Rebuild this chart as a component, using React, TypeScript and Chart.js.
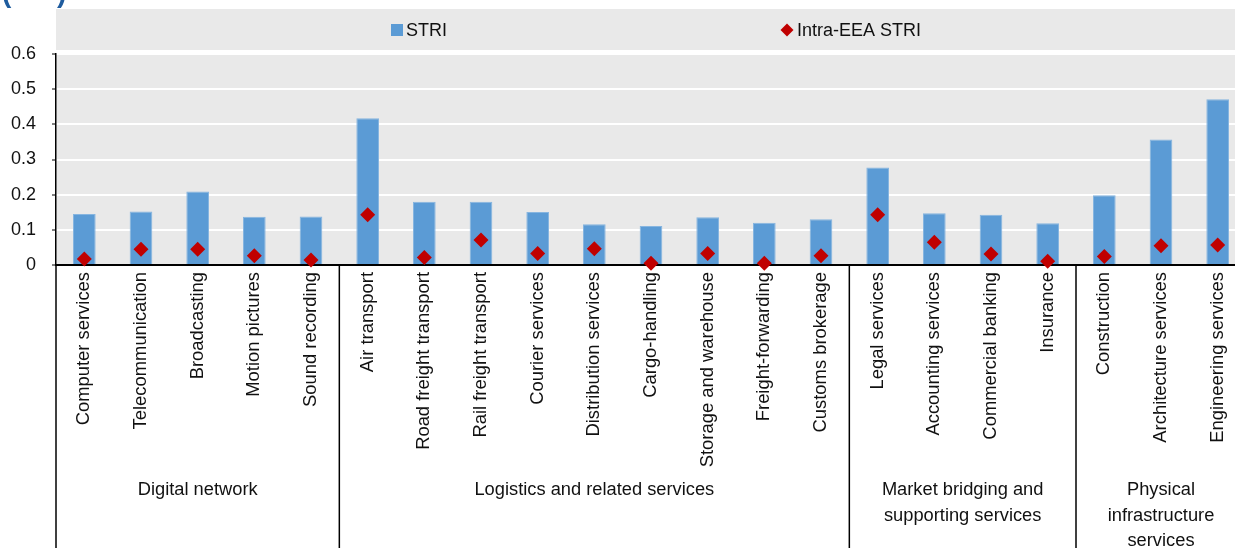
import React, { useEffect, useRef } from "react";
import { Chart, registerables } from "chart.js";

Chart.register(...registerables);

const categories = [
  "Computer services",
  "Telecommunication",
  "Broadcasting",
  "Motion pictures",
  "Sound recording",
  "Air transport",
  "Road freight transport",
  "Rail freight transport",
  "Courier services",
  "Distribution services",
  "Cargo-handling",
  "Storage and warehouse",
  "Freight-forwarding",
  "Customs brokerage",
  "Legal services",
  "Accounting services",
  "Commercial banking",
  "Insurance",
  "Construction",
  "Architecture services",
  "Engineering services",
];

const striValues = [
  0.145, 0.152, 0.209, 0.137, 0.138, 0.417, 0.18, 0.18, 0.151, 0.116, 0.111,
  0.136, 0.12, 0.13, 0.277, 0.147, 0.143, 0.119, 0.198, 0.357, 0.471,
];

const intraEeaValues = [
  0.017, 0.045, 0.045, 0.026, 0.014, 0.143, 0.021, 0.071, 0.033, 0.046, 0.005,
  0.033, 0.005, 0.026, 0.143, 0.065, 0.031, 0.011, 0.024, 0.055, 0.057,
];

const yTicks = [0, 0.1, 0.2, 0.3, 0.4, 0.5, 0.6];

const groupSizes = [5, 9, 4, 3];
const groupLabels = [
  ["Digital network"],
  ["Logistics and related services"],
  ["Market bridging and", "supporting services"],
  ["Physical", "infrastructure", "services"],
];

const legendLabels = ["STRI", "Intra-EEA STRI"];

const FONT = '"Liberation Sans", Arial, sans-serif';
const BLUE = "#5B9BD5";
const RED = "#C00000";
const BG = "#E9E9E9";
const W = 1262;
const H = 560;

const decorPlugin = {
  id: "decor",
  beforeDraw(chart: any) {
    const { ctx, chartArea: ca, width, height } = chart;
    ctx.save();
    ctx.fillStyle = "#ffffff";
    ctx.fillRect(0, 0, width, height);
    ctx.fillStyle = BG;
    ctx.fillRect(ca.left, 9, width - ca.left, 41);
    ctx.fillRect(ca.left, ca.top, ca.right - ca.left, ca.bottom - ca.top);
    ctx.restore();
  },
  afterDatasetDraw(chart: any, args: any) {
    if (args.index !== 0) return;
    const { ctx, chartArea: ca } = chart;
    const y0 = chart.scales.y.getPixelForValue(0);
    ctx.save();
    ctx.strokeStyle = "#000";
    ctx.lineWidth = 2;
    ctx.beginPath();
    ctx.moveTo(ca.left, y0);
    ctx.lineTo(ca.right, y0);
    ctx.stroke();
    ctx.restore();
  },
  afterDraw(chart: any) {
    const { ctx, chartArea: ca, height } = chart;
    const xs = chart.scales.x;
    const y0 = chart.scales.y.getPixelForValue(0);
    ctx.save();
    // group separators
    const bounds: number[] = [ca.left];
    let idx = 0;
    groupSizes.forEach((n) => {
      idx += n;
      if (idx < categories.length) {
        bounds.push((xs.getPixelForValue(idx - 1) + xs.getPixelForValue(idx)) / 2);
      } else {
        bounds.push(ca.right);
      }
    });
    ctx.strokeStyle = "#000";
    ctx.lineWidth = 1.5;
    bounds.forEach((bx) => {
      ctx.beginPath();
      ctx.moveTo(bx, y0);
      ctx.lineTo(bx, height);
      ctx.stroke();
    });
    // group labels
    ctx.fillStyle = "#111";
    ctx.font = `18.3px ${FONT}`;
    ctx.textAlign = "center";
    ctx.textBaseline = "middle";
    groupLabels.forEach((lines, g) => {
      const cx = (bounds[g] + bounds[g + 1]) / 2;
      lines.forEach((line, k) => {
        ctx.fillText(line, cx, 490 + k * 25.5);
      });
    });
    // legend
    const ly = 30;
    ctx.textAlign = "left";
    ctx.font = `18px ${FONT}`;
    ctx.fillStyle = BLUE;
    ctx.fillRect(391, ly - 6, 12, 12);
    ctx.fillStyle = "#111";
    ctx.fillText(legendLabels[0], 406, ly + 1);
    ctx.fillStyle = RED;
    ctx.beginPath();
    ctx.moveTo(787, ly - 6.5);
    ctx.lineTo(793.5, ly);
    ctx.lineTo(787, ly + 6.5);
    ctx.lineTo(780.5, ly);
    ctx.closePath();
    ctx.fill();
    ctx.fillStyle = "#111";
    ctx.fillText(legendLabels[1], 797, ly + 1);
    // cut-off title parentheses
    ctx.fillStyle = "#1F5C9E";
    ctx.font = `bold 28px "Liberation Sans", Arial, sans-serif`;
    ctx.textBaseline = "alphabetic";
    ctx.fillText("(", 2, 2);
    ctx.fillText(")", 57, 2);
    ctx.restore();
  },
};

export default function App() {
  const canvasRef = useRef<HTMLCanvasElement | null>(null);

  useEffect(() => {
    const canvas = canvasRef.current;
    if (!canvas) return;
    const chart = new Chart(canvas, {
      type: "bar",
      data: {
        labels: categories,
        datasets: [
          {
            type: "bar",
            label: legendLabels[0],
            data: striValues,
            backgroundColor: BLUE,
            borderColor: "#86B5E0",
            borderWidth: 1,
            barPercentage: 0.4,
            categoryPercentage: 1,
            order: 2,
          },
          {
            type: "line",
            label: legendLabels[1],
            data: intraEeaValues,
            showLine: false,
            pointStyle: "rectRot",
            pointRadius: 7.5,
            pointHoverRadius: 7.5,
            pointBackgroundColor: RED,
            pointBorderWidth: 0,
            borderColor: RED,
            backgroundColor: RED,
            clip: false,
            order: 1,
          } as any,
        ],
      },
      options: {
        responsive: false,
        animation: false,
        events: [],
        layout: { padding: { top: 54, left: 0, right: 16, bottom: 0 } },
        plugins: {
          legend: { display: false },
          tooltip: { enabled: false },
          title: { display: false },
        },
        scales: {
          x: {
            type: "category",
            offset: true,
            grid: { display: false, drawTicks: false },
            border: { display: false },
            ticks: {
              autoSkip: false,
              maxRotation: 90,
              minRotation: 90,
              padding: 7,
              color: "#111",
              font: { family: FONT, size: 18.4 },
            },
            afterFit: (scale: any) => {
              scale.height = H - 265;
            },
          },
          y: {
            min: 0,
            max: 0.6,
            grid: {
              color: (c: any) => (c.tick && c.tick.value === 0 ? "rgba(0,0,0,0)" : "#ffffff"),
              lineWidth: 2,
              drawTicks: true,
              tickLength: 4,
              tickColor: "#000",
              tickWidth: 1,
            },
            border: { display: true, color: "#000", width: 1.5 },
            ticks: {
              padding: 16,
              color: "#111",
              font: { family: FONT, size: 18 },
              callback: (v: any) => String(Math.round(Number(v) * 10) / 10),
            },
            afterBuildTicks: (scale: any) => {
              scale.ticks = yTicks.map((v) => ({ value: v }));
            },
            afterFit: (scale: any) => {
              scale.width = 56;
            },
          },
        },
      } as any,
      plugins: [decorPlugin],
    });
    return () => chart.destroy();
  }, []);

  return (
    <div
      style={{
        position: "fixed",
        left: 0,
        top: 0,
        width: 1235,
        height: 548,
        overflow: "hidden",
        background: "#fff",
      }}
    >
      <canvas
        ref={canvasRef}
        width={W}
        height={H}
        style={{ display: "block", width: W, height: H }}
      />
    </div>
  );
}
